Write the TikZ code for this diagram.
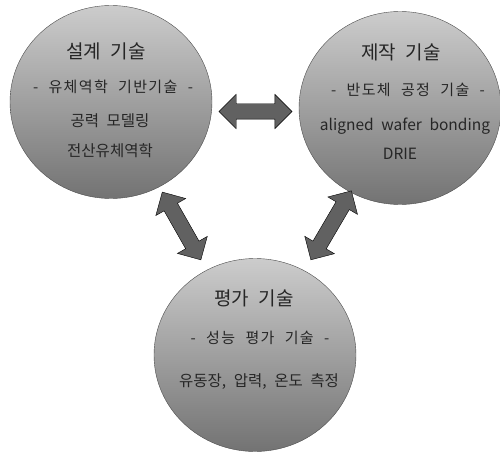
\documentclass[tikz,border=0pt]{standalone}
\usepackage{fontspec}
\setmainfont{Noto Sans CJK KR}[WordSpace=2.2]
\usetikzlibrary{calc}
\usetikzlibrary{shapes.geometric,shapes.arrows}
\tikzset{tech/.style={ellipse, draw=black!70, minimum width=202pt, minimum height=193pt, top color=black!20, bottom color=black!55, inner sep=0pt},
	fatarrow/.style={double arrow, draw=black, fill=black!62, inner xsep=0pt, inner ysep=7.5pt, double arrow head extend=9.5pt, double arrow tip angle=90},
	head/.style={text=black!85, font=\fontsize{19}{21}\selectfont},
	sub/.style={text=black!85, font=\fontsize{15}{17}\selectfont\addfontfeature{LetterSpace=9}},
	item/.style={text=black!85, font=\fontsize{15.5}{18}\selectfont}}

\begin{document}
\begin{tikzpicture}[x=1pt, y=-1pt]
	
	\useasboundingbox (0,0) rectangle (500,454);
	
	% the three fields
	\node[tech] (design) at (111,102) {};
	\node[tech] (make) at (400,108) {};
	\node[tech] (eval) at (255,355) {};
	
	% design
	\node[head] (design-t) at (106,51) {설계 기술};
	\node[sub] (design-s) at (113,87) {- 유체역학 기반기술 -};
	\node[item] (design-1) at (110,121) {공력 모델링};
	\node[item] (design-2) at (110,151) {전산유체역학};
	
	% fabrication
	\node[head] (make-t) at (401,52) {제작 기술};
	\node[sub] (make-s) at (408,90) {- 반도체 공정 기술 -};
	\node[item] (make-1) at (405,126) {aligned wafer bonding};
	\node[item] (make-2) at (400,154) {DRIE};
	
	% evaluation
	\node[head] (eval-t) at (254,298) {평가 기술};
	\node[sub] (eval-s) at (260,338) {- 성능 평가 기술 -};
	\node[item] (eval-1) at (259,382) {유동장, 압력, 온도 측정};
	
	% arrows between the fields
	\node[fatarrow, minimum height=73pt, yshift=-6.5pt] (a-dm) at ($(design.east)!0.5!(make.west)$) {};
	\path let \p1=($(eval.center)-(design.center)$), \n1={atan2(\y1,\x1)} in
		node[fatarrow, minimum height=78pt, rotate=\n1] (a-de) at ($(design.center)!0.49!(eval.center)$) {};
	\path let \p1=($(eval.center)-(make.center)$), \n1={atan2(\y1,\x1)} in
		node[fatarrow, minimum height=80pt, rotate=\n1] (a-me) at ($(make.center)!0.475!(eval.center)$) {};
	
\end{tikzpicture}
\end{document}
